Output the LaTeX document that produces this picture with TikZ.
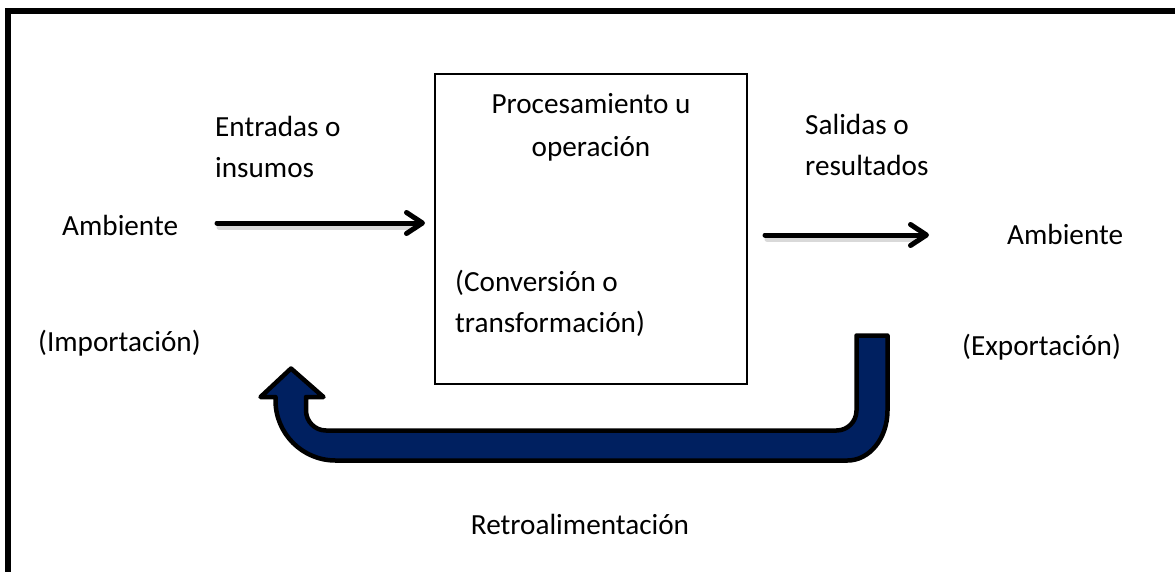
\documentclass[tikz,border=0pt]{standalone}
\usepackage{fontspec}
\setmainfont{Carlito}
\usetikzlibrary{arrows.meta}
\definecolor{navy}{RGB}{0,32,96}
\tikzset{
  txt/.style={inner sep=0pt, font=\fontsize{29.2}{40.5}\selectfont},
  flowarrow/.style={line width=5pt, line cap=round,
    -{Straight Barb[length=16pt, width=21pt, round]}},
  shadowline/.style={line width=5pt, line cap=round, draw=black, opacity=0.15},
  fbarrow/.style={fill=navy, draw=black, line width=4.5pt, line join=round},
}
\begin{document}
\begin{tikzpicture}[x=1pt, y=-1pt]
\useasboundingbox (0,0) rectangle (1175,571);
\clip (0,0) rectangle (1175,571);
\fill[white] (0,0) rectangle (1175,571);
% outer frame
\draw[line width=6pt] (8,11) rectangle (1200,600);
% process box
\node[draw, line width=2pt, minimum width=312pt, minimum height=310pt, inner sep=0pt] (proc) at (591,229) {};
% texts (multi-line nodes: base anchor is the baseline of the last line)
\node[txt, anchor=base, align=center] (proctxt) at (591,156) {Procesamiento u\\[2.5pt]operación};
\node[txt, anchor=base west, align=left] (conv) at (455,332) {(Conversión o\\transformación)};
\node[txt, anchor=base west, align=left] (entradas) at (215,177) {Entradas o\\insumos};
\node[txt, anchor=base west] (ambL) at (62,235) {Ambiente};
\node[txt, anchor=base west] (impL) at (38,351) {(Importación)};
\node[txt, anchor=base west, align=left] (salidas) at (805,175) {Salidas o\\resultados};
\node[txt, anchor=base west] (ambR) at (1007,244) {Ambiente};
\node[txt, anchor=base west] (expR) at (962,355) {(Exportación)};
\node[txt, anchor=base] (retro) at (580,534) {Retroalimentación};
% input / output arrows
\coordinate (inS) at (217,223);
\coordinate (inE) at (425,223);
\coordinate (outS) at (765,235);
\coordinate (outE) at (929,235);
\draw[shadowline] ([shift={(2,4)}]inS) -- ([shift={(-14,4)}]inE);
\draw[shadowline] ([shift={(2,4)}]outS) -- ([shift={(-14,4)}]outE);
\draw[flowarrow] (inS) -- (inE);
\draw[flowarrow] (outS) -- (outE);
% feedback U-turn arrow
\draw[fbarrow]
  (291,368.5) -- (323.5,397) -- (306,397) -- (306,410.5)
  arc[start angle=180, end angle=90, radius=20]
  -- (836.5,430.5)
  arc[start angle=90, end angle=0, radius=20]
  -- (856.5,335.5) -- (887.5,335.5) -- (887.5,410.5)
  arc[start angle=0, end angle=90, x radius=40, y radius=50]
  -- (335.5,460.5)
  arc[start angle=90, end angle=180, radius=60]
  -- (275.5,397) -- (260.5,397) -- cycle;
\end{tikzpicture}
\end{document}
